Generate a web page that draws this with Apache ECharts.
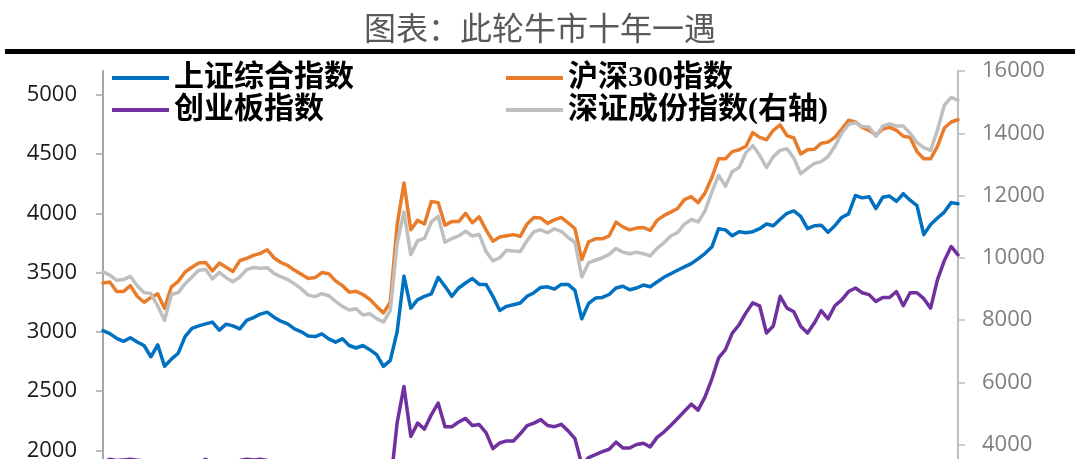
<!DOCTYPE html>
<html>
<head>
<meta charset="utf-8">
<script src="https://cdn.jsdelivr.net/npm/echarts@6.0.0/dist/echarts.min.js"></script>
<style>
html,body{margin:0;padding:0;background:#fff;overflow:hidden;}
#chart{width:1080px;height:459px;}
</style>
</head>
<body>
<div id="chart"></div>
<script>
var titleText = '图表：此轮牛市十年一遇';
var seriesNames = ['上证综合指数', '沪深300指数', '创业板指数', '深证成份指数(右轴)'];

var categories = [
'2023-12-01','2023-12-08','2023-12-15','2023-12-22','2023-12-29',
'2024-01-05','2024-01-12','2024-01-19','2024-01-26','2024-02-02','2024-02-09','2024-02-16','2024-02-23','2024-03-01','2024-03-08','2024-03-15','2024-03-22','2024-03-29','2024-04-05','2024-04-12','2024-04-19','2024-04-26','2024-05-03','2024-05-10','2024-05-17','2024-05-24','2024-05-31','2024-06-07','2024-06-14','2024-06-21','2024-06-28','2024-07-05','2024-07-12','2024-07-19','2024-07-26','2024-08-02','2024-08-09','2024-08-16','2024-08-23','2024-08-30','2024-09-06','2024-09-13','2024-09-20','2024-09-27','2024-10-04','2024-10-11','2024-10-18','2024-10-25','2024-11-01','2024-11-08','2024-11-15','2024-11-22','2024-11-29','2024-12-06','2024-12-13','2024-12-20','2024-12-27',
'2025-01-03','2025-01-10','2025-01-17','2025-01-24','2025-01-31','2025-02-07','2025-02-14','2025-02-21','2025-02-28','2025-03-07','2025-03-14','2025-03-21','2025-03-28','2025-04-04','2025-04-11','2025-04-18','2025-04-25','2025-05-02','2025-05-09','2025-05-16','2025-05-23','2025-05-30','2025-06-06','2025-06-13','2025-06-20','2025-06-27','2025-07-04','2025-07-11','2025-07-18','2025-07-25','2025-08-01','2025-08-08','2025-08-15','2025-08-22','2025-08-29','2025-09-05','2025-09-12','2025-09-19','2025-09-26','2025-10-03','2025-10-10','2025-10-17','2025-10-24','2025-10-31','2025-11-07','2025-11-14','2025-11-21','2025-11-28','2025-12-05','2025-12-12','2025-12-19','2025-12-26',
'2026-01-02','2026-01-09','2026-01-16','2026-01-23','2026-01-30','2026-02-06','2026-02-13','2026-02-20','2026-02-27','2026-03-06','2026-03-13','2026-03-20','2026-03-27','2026-04-03','2026-04-10','2026-04-17','2026-04-24'
];

var shIndex = [
3010,2985,2945,2920,2950,2915,2885,2790,2890,2710,2770,2820,2960,3030,3050,3067,3082,3015,3065,3050,
3025,3096,3120,3150,3166,3124,3090,3067,3025,3000,2965,2960,2983,2941,2913,2941,2885,2864,2885,2850,
2808,2709,2760,3000,3470,3200,3271,3299,3320,3460,3384,3300,3370,3412,3450,3400,3400,3300,3180,3215,
3229,3243,3300,3330,3375,3380,3360,3400,3400,3350,3110,3240,3285,3290,3315,3370,3385,3355,3370,3395,
3380,3420,3460,3490,3520,3548,3575,3615,3660,3715,3870,3860,3810,3845,3836,3845,3870,3910,3895,3950,
4000,4020,3974,3870,3895,3900,3840,3895,3965,3995,4150,4130,4140,4040,4135,4145,4100,4165,4110,4065,
3820,3905,3960,4010,4090,4080
];

var hs300 = [
3412,3420,3340,3340,3390,3300,3250,3290,3320,3200,3380,3426,3505,3545,3580,3585,3515,3580,3545,3510,
3600,3620,3645,3662,3693,3625,3585,3560,3520,3485,3450,3458,3500,3490,3430,3390,3335,3342,3315,3275,
3215,3160,3250,3900,4255,3862,3940,3910,4100,4090,3900,3930,3930,4000,3920,3970,3860,3765,3800,3810,
3820,3806,3910,3965,3960,3915,3945,3965,3920,3870,3610,3760,3785,3785,3810,3925,3885,3860,3875,3880,
3855,3940,3980,4010,4040,4115,4140,4090,4170,4300,4460,4460,4520,4536,4565,4680,4640,4620,4700,4745,
4655,4635,4500,4536,4540,4590,4600,4640,4710,4785,4770,4725,4700,4660,4710,4725,4700,4650,4640,4520,
4460,4460,4564,4719,4770,4789
];

var cybIndex = [
1905,1925,1915,1920,1925,1918,1912,1860,1700,1550,1650,1750,1820,1870,1900,1925,1890,1870,1880,1890,
1915,1925,1920,1925,1915,1860,1800,1760,1720,1700,1680,1650,1680,1640,1600,1580,1560,1580,1540,1550,
1500,1480,1700,2232,2540,2119,2230,2180,2300,2400,2200,2200,2240,2270,2210,2218,2150,2015,2063,2080,
2080,2140,2210,2230,2260,2210,2200,2220,2165,2100,1880,1940,1965,1990,2010,2070,2021,2021,2050,2060,
2030,2110,2155,2210,2270,2330,2390,2340,2450,2600,2780,2850,2990,3060,3160,3245,3220,2990,3050,3300,
3200,3170,3047,2990,3074,3180,3110,3220,3270,3340,3370,3330,3314,3257,3290,3290,3340,3220,3330,3330,
3280,3200,3440,3600,3720,3650
];

var szIndex = [
9545,9440,9274,9300,9400,9100,8880,8850,8450,7990,8820,8880,9168,9381,9600,9620,9320,9530,9360,9230,
9380,9620,9690,9660,9680,9500,9390,9300,9160,9000,8800,8750,8850,8780,8600,8440,8320,8360,8160,8200,
8045,7935,8300,10455,11472,10100,10550,10620,11150,11330,10500,10616,10700,10850,10700,10750,10200,9900,10000,10240,
10215,10200,10550,10840,10900,10800,10930,10850,10650,10500,9381,9840,9920,10000,10110,10300,10180,10130,10180,10130,
10060,10300,10480,10700,10810,11080,11230,11150,11500,12100,12650,12300,12770,12900,13380,13600,13300,12900,13250,13450,
13500,13200,12700,12869,13030,13090,13250,13580,14000,14280,14340,14220,14200,13900,14230,14300,14230,14230,14000,13700,
13540,13450,14101,14900,15150,15060
];

var leftTicks = [1000,1500,2000,2500,3000,3500,4000,4500,5000];
var leftLabels = [2000,2500,3000,3500,4000,4500,5000];
var rightTicks = [0,2000,4000,6000,8000,10000,12000,14000,16000];
var rightLabels = [4000,6000,8000,10000,12000,14000,16000];

var colors = ['#0070C0', '#E97C2A', '#7030A0', '#BFBFBF'];

var chart = echarts.init(document.getElementById('chart'));
var legendFont = {
  fontSize: 30, fontWeight: 'bold', color: '#000',
  fontFamily: '"Liberation Serif", "Noto Sans CJK SC", serif'
};
function mkLegend(name, left, top) {
  return {
    data: [name], left: left, top: top, padding: 0,
    icon: 'rect', itemWidth: 57, itemHeight: 4, selectedMode: false,
    textStyle: legendFont
  };
}
function plain(v) { return String(v); }
var dataList = [shIndex, hs300, cybIndex, szIndex];
var axisIdx = [0, 0, 0, 1];
var series = seriesNames.map(function (n, k) {
  return {
    name: n, type: 'line', data: dataList[k], yAxisIndex: axisIdx[k],
    symbol: 'none', smooth: false,
    lineStyle: { width: 3.5, color: colors[k], join: 'round', cap: 'round' },
    itemStyle: { color: colors[k] },
    z: 2 + k
  };
});

chart.setOption({
  animation: false,
  backgroundColor: '#fff',
  title: {
    text: titleText, left: 'center', top: 7,
    textStyle: { fontSize: 32, fontWeight: 'normal', color: '#595959', fontFamily: '"Noto Sans CJK SC"' }
  },
  graphic: [{
    type: 'rect', left: 5, top: 49, shape: { width: 1070, height: 5 },
    style: { fill: '#000' }, silent: true
  }],
  legend: [
    mkLegend(seriesNames[0], 112, 63),
    mkLegend(seriesNames[1], 506, 63),
    mkLegend(seriesNames[2], 112, 95),
    mkLegend(seriesNames[3], 506, 95)
  ],
  grid: { left: 103, right: 122, top: 71, height: 498, containLabel: false, outerBoundsMode: 'none' },
  xAxis: {
    type: 'category', data: categories, boundaryGap: false,
    axisLine: { lineStyle: { color: '#a6a6a6', width: 1.5 } },
    axisTick: { show: false }, axisLabel: { show: false }, splitLine: { show: false }
  },
  yAxis: [{
    type: 'value', min: 1000, max: 5200, position: 'left',
    axisLine: { show: true, lineStyle: { color: '#a6a6a6', width: 2 } },
    axisTick: { show: true, inside: false, length: 7, customValues: leftTicks, lineStyle: { color: '#a6a6a6', width: 1.5 } },
    axisLabel: { customValues: leftLabels, formatter: plain, color: '#1a1a1a', fontSize: 22, fontFamily: '"Open Sans", sans-serif', margin: 26 },
    splitLine: { show: false }
  }, {
    type: 'value', min: 0, max: 16000, position: 'right',
    axisLine: { show: true, lineStyle: { color: '#bfbfbf', width: 2 } },
    axisTick: { show: true, inside: false, length: 7, customValues: rightTicks, lineStyle: { color: '#bfbfbf', width: 1.5 } },
    axisLabel: { customValues: rightLabels, formatter: plain, color: '#7f7f7f', fontSize: 22, fontFamily: '"Open Sans", sans-serif', margin: 24 },
    splitLine: { show: false }
  }],
  series: series
});
</script>
</body>
</html>
